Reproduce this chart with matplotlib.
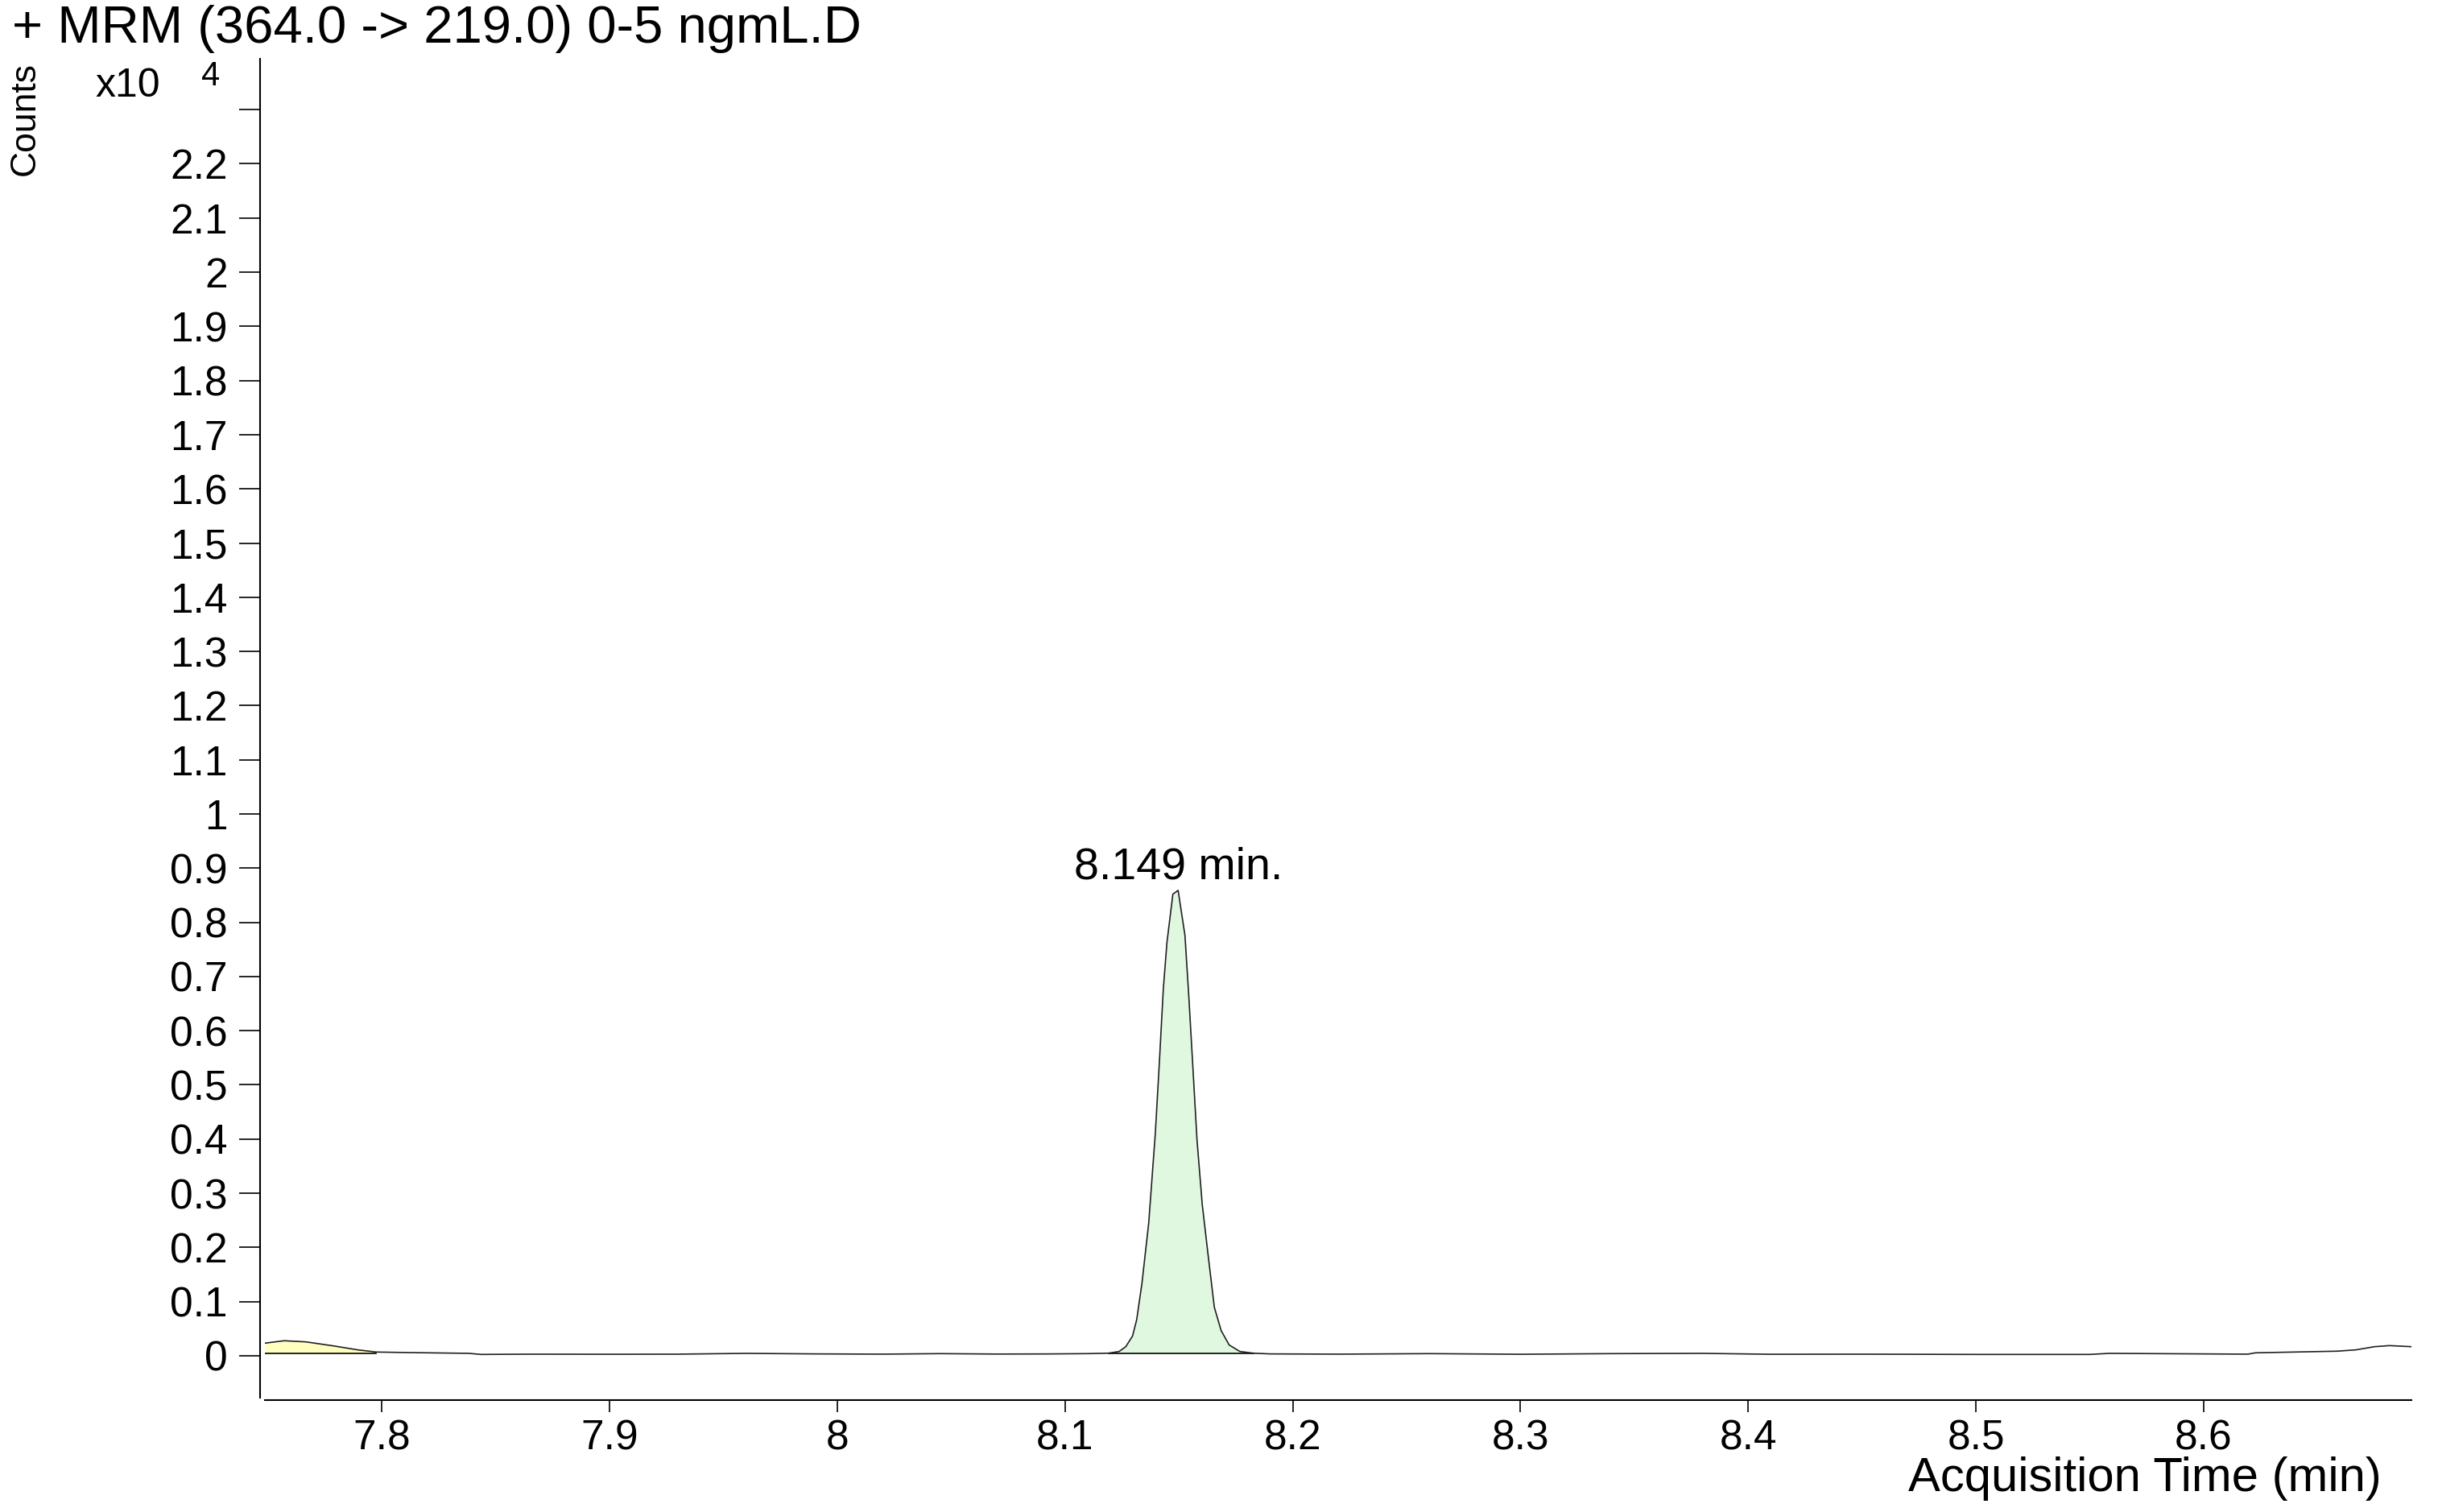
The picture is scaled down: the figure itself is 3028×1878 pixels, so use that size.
import numpy as np
import matplotlib
matplotlib.use("Agg")
import matplotlib.pyplot as plt

plt.rcParams['font.family'] = ['Liberation Sans', 'DejaVu Sans']

# MRM trace (counts x10^4)
time = np.array([7.7487, 7.7572, 7.7667, 7.7788, 7.7896, 7.7977, 7.8112, 7.8383,
                 7.8437, 7.8653, 7.9000, 7.9300, 7.9600, 7.9900, 8.0200, 8.0450,
                 8.0700, 8.0920, 8.1100, 8.1191, 8.1238, 8.1267, 8.1297, 8.1315,
                 8.1338, 8.1368, 8.1397, 8.1415, 8.1432, 8.1448, 8.1474, 8.1497,
                 8.1527, 8.1544, 8.1562, 8.1580, 8.1603, 8.1627, 8.1656, 8.1686,
                 8.1721, 8.1768, 8.1827, 8.1900, 8.2200, 8.2600, 8.3000, 8.3400,
                 8.3800, 8.4100, 8.4500, 8.5000, 8.5500, 8.5586, 8.6194, 8.6227,
                 8.6586, 8.6667, 8.6750, 8.6816, 8.6912])
counts = np.array([0.0233, 0.0278, 0.0257, 0.0183, 0.0109, 0.0069, 0.0060, 0.0045,
                   0.0025, 0.0030, 0.0028, 0.0030, 0.0045, 0.0035, 0.0030, 0.0040,
                   0.0032, 0.0034, 0.0040, 0.0048, 0.0080, 0.0167, 0.0366, 0.0664,
                   0.1330, 0.2455, 0.4110, 0.5440, 0.6770, 0.7630, 0.8520, 0.8590,
                   0.7760, 0.6630, 0.5310, 0.3980, 0.2790, 0.1920, 0.0896, 0.0465,
                   0.0200, 0.0080, 0.0048, 0.0035, 0.0030, 0.0040, 0.0028, 0.0040,
                   0.0045, 0.0028, 0.0030, 0.0025, 0.0025, 0.0045, 0.0030, 0.0055,
                   0.0085, 0.0109, 0.0168, 0.0188, 0.0168])

# integrated peaks: (start, end, baseline, colour)
peak_start = [7.7487, 8.1191]
peak_end = [7.7977, 8.1827]
peak_base = [0.0040, 0.0048]
peak_color = ['#ffffc0', '#e0f8e0']

rt_label = '8.149 min.'
rt_time = 8.1497
rt_height = 0.88

y_ticks = np.round(np.arange(0, 2.35, 0.1), 1)
x_ticks = [7.8, 7.9, 8.0, 8.1, 8.2, 8.3, 8.4, 8.5, 8.6]

W, H = 3028, 1878
fig = plt.figure(figsize=(W / 200, H / 200), dpi=200)
ax = fig.add_axes([329 / W, 1 - 1736 / H, (2995 - 329) / W, (1736 - 73) / H])

for s, e, b, c in zip(peak_start, peak_end, peak_base, peak_color):
    m = (time >= s) & (time <= e)
    ax.fill_between(time[m], counts[m], b, color=c, lw=0)
    ax.plot([s, e], [b, b], color='black', lw=0.6)

ax.plot(time, counts, color='#202020', lw=0.6)

ax.text(rt_time, rt_height, rt_label, ha='center', va='baseline', fontsize=20)

ax.set_xlim(7.74874, 8.6912)
ax.set_ylim(-0.0773, 2.3938)
ax.set_yticks(y_ticks)
ax.set_yticklabels(['%g' % v for v in y_ticks[:-1]] + [''])
ax.set_xticks(x_ticks)
ax.set_xticklabels(['%g' % v for v in x_ticks])

for side in ['top', 'right']:
    ax.spines[side].set_visible(False)
ax.spines['left'].set_position(('outward', 2.2))
ax.spines['bottom'].set_position(('outward', 1.1))
ax.spines['left'].set_linewidth(0.75)
ax.spines['bottom'].set_linewidth(0.75)
ax.tick_params(axis='y', length=9.4, width=0.6, pad=5, labelsize=18.5)
ax.tick_params(axis='x', length=5.4, width=0.6, pad=3, labelsize=18.5)

fig.text(15 / W, 1 - 53 / H, '+ MRM (364.0 -> 219.0) 0-5 ngmL.D',
         ha='left', va='baseline', fontsize=23.5)
fig.text(31 / W, 1 - 147 / H, 'Counts', rotation=90, ha='center', va='center',
         fontsize=16)
fig.text(118 / W, 1 - 120 / H, 'x10', ha='left', va='baseline', fontsize=18)
fig.text(250 / W, 1 - 106 / H, '4', ha='left', va='baseline', fontsize=15)
fig.text(2958 / W, 1 - 1852 / H, 'Acquisition Time (min)', ha='right',
         va='baseline', fontsize=21.5)

fig.savefig('out.png', dpi=200)
